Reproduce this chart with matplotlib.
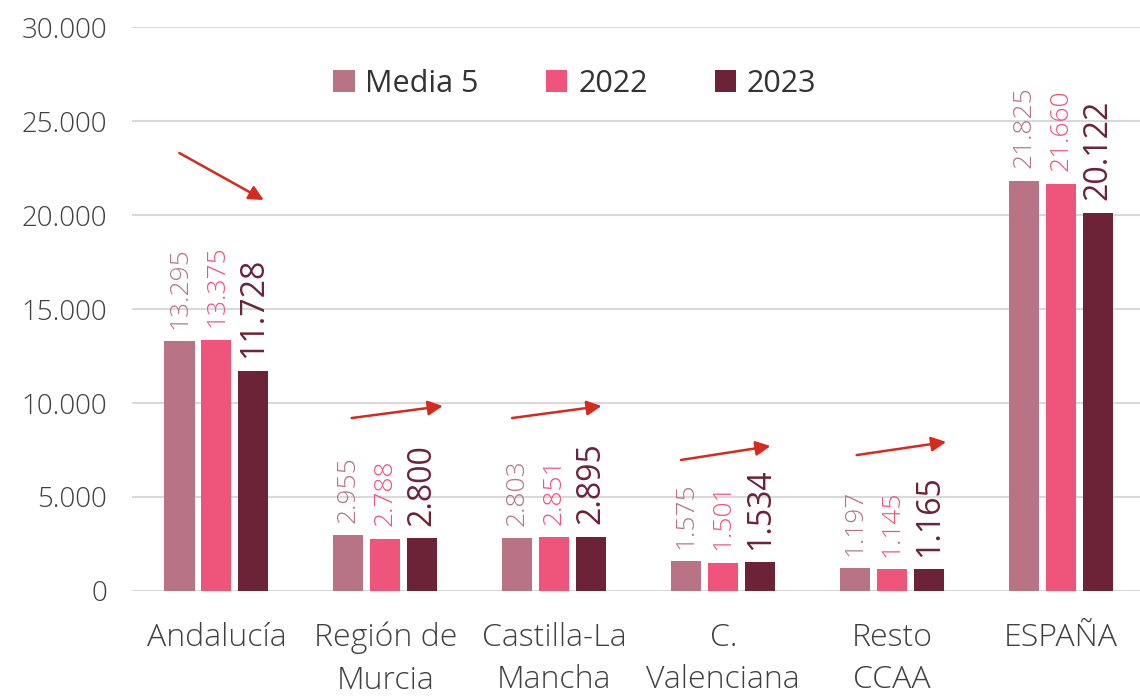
import matplotlib.pyplot as plt
import numpy as np

plt.rcParams['font.family'] = ['Open Sans', 'DejaVu Sans']

regiones = ["Andalucía", "Región de\nMurcia", "Castilla-La\nMancha", "C.\nValenciana", "Resto\nCCAA", "ESPAÑA"]
media5 = [13295, 2955, 2803, 1575, 1197, 21825]
v2022 = [13375, 2788, 2851, 1501, 1145, 21660]
v2023 = [11728, 2800, 2895, 1534, 1165, 20122]
series = ["Media 5", "2022", "2023"]
colores = ["#B87385", "#EF547A", "#6C2237"]

# flechas de tendencia (inicio, fin) en coordenadas de datos
flechas = [
    ((-0.22, 23300), (0.28, 20800)),
    ((0.80, 9200), (1.34, 9840)),
    ((1.75, 9200), (2.28, 9840)),
    ((2.75, 6970), (3.28, 7710)),
    ((3.79, 7230), (4.32, 7930)),
]

def fmt(v):
    return f"{v:,}".replace(",", ".")

fig = plt.figure(figsize=(11.4, 6.98), dpi=100)
ax = fig.add_axes([0.1158, 0.1533, 0.889, 0.808])

x = np.arange(len(regiones))
ancho = 0.178
paso = 0.219
for i, (datos, nombre, col) in enumerate(zip([media5, v2022, v2023], series, colores)):
    pos = x + (i - 1) * paso
    ax.bar(pos, datos, width=ancho, color=col, label=nombre, zorder=3)
    tam = 23 if i == 2 else 19
    peso = "normal" if i == 2 else "light"
    for xp, v in zip(pos, datos):
        ax.annotate(fmt(v), (xp, v), xytext=(0, 9), textcoords="offset points",
                    rotation=90, ha="center", va="bottom", color=col,
                    fontsize=tam, fontweight=peso)

for ini, fin in flechas:
    ax.annotate("", xy=fin, xytext=ini,
                arrowprops=dict(arrowstyle="-|>", color="#D62A1E", lw=1.8,
                                mutation_scale=22, shrinkA=0, shrinkB=0))

ax.set_xlim(-0.5, 5.5)
ax.set_ylim(0, 30000)
ax.set_yticks(range(0, 30001, 5000))
ax.set_yticklabels([fmt(v) for v in range(0, 30001, 5000)], fontsize=20, fontweight="light")
ax.set_xticks(x)
ax.set_xticklabels(regiones, linespacing=1.45, fontsize=23, fontweight="light")
ax.tick_params(axis="both", length=0, colors="#404040")
ax.tick_params(axis="x", pad=22)
ax.tick_params(axis="y", pad=18)
ax.grid(axis="y", color="#D9D9D9", lw=1.5, zorder=0)
for s in ax.spines.values():
    s.set_visible(False)

ax.legend(loc="upper center", bbox_to_anchor=(0.437, 0.975), ncol=3, frameon=False,
          fontsize=22, handlelength=0.7, handleheight=0.7, columnspacing=2.2,
          handletextpad=0.35, labelcolor="#333333")

fig.savefig("out.png", dpi=100)
